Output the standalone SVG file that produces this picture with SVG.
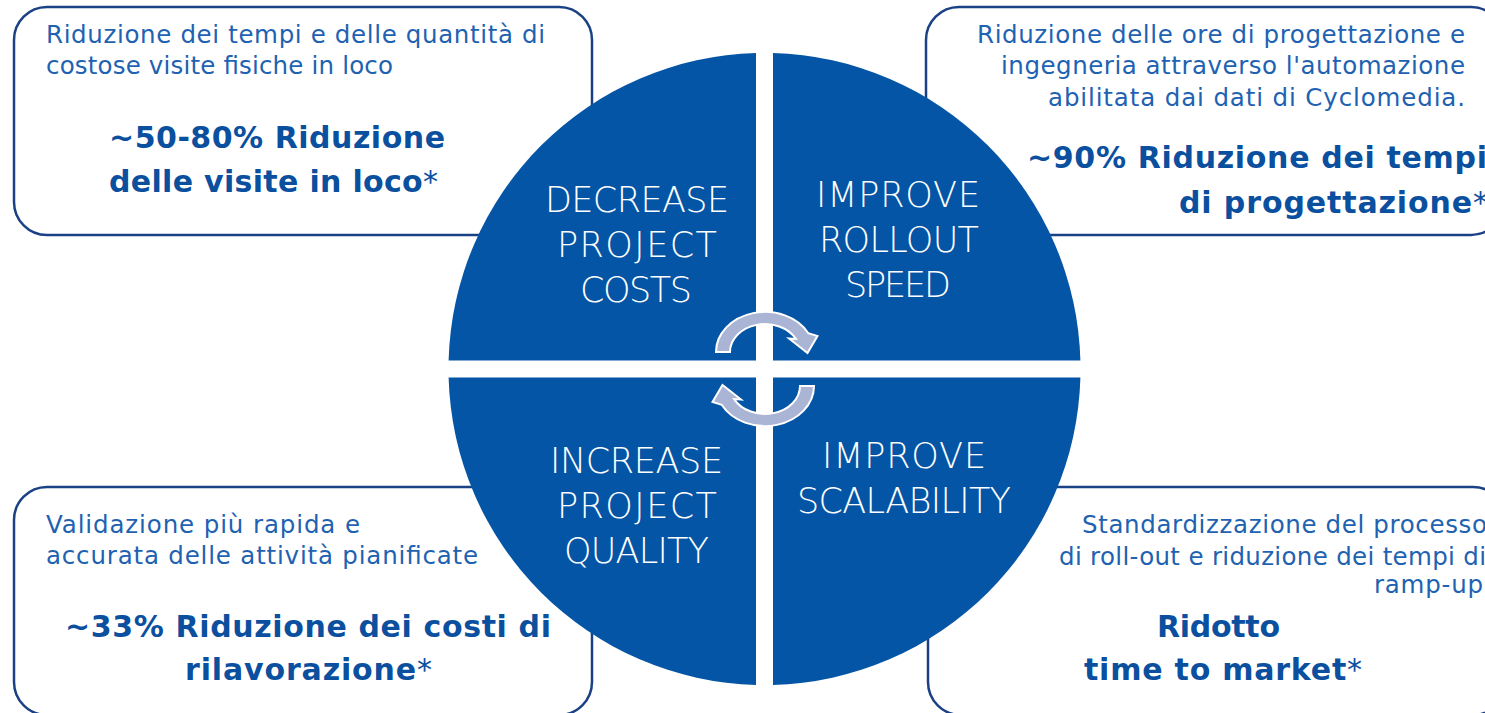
<svg xmlns="http://www.w3.org/2000/svg" width="1485" height="713" viewBox="0 0 1485 713">
<style>
.box{fill:#ffffff;stroke:#1a4185;stroke-width:2.5}
.quad{fill:#0455a5}
.qt{font-family:"DejaVu Sans","Liberation Sans",sans-serif;font-size:35px;font-weight:200;fill:#ffffff;text-anchor:middle}
.sm{font-family:"DejaVu Sans","Liberation Sans",sans-serif;font-size:24.5px;fill:#1e62b1}
.bd{font-family:"DejaVu Sans","Liberation Sans",sans-serif;font-size:30px;font-weight:bold;fill:#0b4f9f}
.ast{font-weight:normal}
.end{text-anchor:end}
.cyc{fill:#aab4d4;stroke:#ffffff;stroke-width:2}
</style>
<defs>
<path id="cycArrow" d="M716,352 A49,40 0 0 1 808.3,333.2 L817.5,336 L807.5,353 L789,338.5 L795.9,338.9 A35,28 0 0 0 730,352 Z"/>
</defs>

<g id="box-tl">
<rect class="box" x="14" y="7" width="578" height="228" rx="33"/>
<text class="sm" x="46" y="43" textLength="499">Riduzione dei tempi e delle quantità di</text>
<text class="sm" x="46" y="74" textLength="347">costose visite fisiche in loco</text>
<text class="bd" x="109" y="148" textLength="336">~50-80% Riduzione</text>
<text class="bd" x="109" y="192" textLength="329">delle visite in loco<tspan class="ast">*</tspan></text>
</g>

<g id="box-tr">
<rect class="box" x="926" y="7" width="578" height="228" rx="33"/>
<text class="sm end" x="1465" y="43" textLength="488">Riduzione delle ore di progettazione e</text>
<text class="sm end" x="1465" y="74" textLength="464">ingegneria attraverso l'automazione</text>
<text class="sm end" x="1465" y="106" textLength="417">abilitata dai dati di Cyclomedia.</text>
<text class="bd end" x="1487" y="168" textLength="460">~90% Riduzione dei tempi</text>
<text class="bd end" x="1488" y="213" textLength="309">di progettazione<tspan class="ast">*</tspan></text>
</g>

<g id="box-bl">
<rect class="box" x="14" y="487" width="578" height="228" rx="33"/>
<text class="sm" x="46" y="533" textLength="314">Validazione più rapida e</text>
<text class="sm" x="46" y="564" textLength="432">accurata delle attività pianificate</text>
<text class="bd" x="65" y="637" textLength="486">~33% Riduzione dei costi di</text>
<text class="bd" x="185" y="680" textLength="247">rilavorazione<tspan class="ast">*</tspan></text>
</g>

<g id="box-br">
<rect class="box" x="928" y="487" width="578" height="228" rx="33"/>
<text class="sm end" x="1487" y="533" textLength="405">Standardizzazione del processo</text>
<text class="sm end" x="1486" y="565" textLength="427">di roll-out e riduzione dei tempi di</text>
<text class="sm end" x="1483" y="593" textLength="109">ramp-up</text>
<text class="bd" x="1157" y="637" textLength="123">Ridotto</text>
<text class="bd" x="1084" y="680" textLength="278">time to market<tspan class="ast">*</tspan></text>
</g>

<g id="quad-decrease-costs">
<path class="quad" d="M756,360.5 L756,53.1 A316,316 0 0 0 448.6,360.5 Z"/>
<text class="qt" x="637" y="212" textLength="184">DECREASE</text>
<text class="qt" x="637" y="257" textLength="160">PROJECT</text>
<text class="qt" x="636" y="302" textLength="112">COSTS</text>
</g>

<g id="quad-rollout-speed">
<path class="quad" d="M773,360.5 L773,53.1 A316,316 0 0 1 1080.4,360.5 Z"/>
<text class="qt" x="898" y="207" textLength="164">IMPROVE</text>
<text class="qt" x="899" y="252" textLength="160">ROLLOUT</text>
<text class="qt" x="898" y="297" textLength="106">SPEED</text>
</g>

<g id="quad-project-quality">
<path class="quad" d="M756,377.5 L756,684.9 A316,316 0 0 1 448.6,377.5 Z"/>
<text class="qt" x="636.5" y="473" textLength="173">INCREASE</text>
<text class="qt" x="637" y="518" textLength="160">PROJECT</text>
<text class="qt" x="636.5" y="563" textLength="145">QUALITY</text>
</g>

<g id="quad-scalability">
<path class="quad" d="M773,377.5 L773,684.9 A316,316 0 0 0 1080.4,377.5 Z"/>
<text class="qt" x="904" y="468" textLength="164">IMPROVE</text>
<text class="qt" x="904" y="513" textLength="214">SCALABILITY</text>
</g>

<g id="connectors">
<use href="#cycArrow" class="cyc"/>
<use href="#cycArrow" class="cyc" transform="rotate(180 765 369)"/>
</g>
</svg>
